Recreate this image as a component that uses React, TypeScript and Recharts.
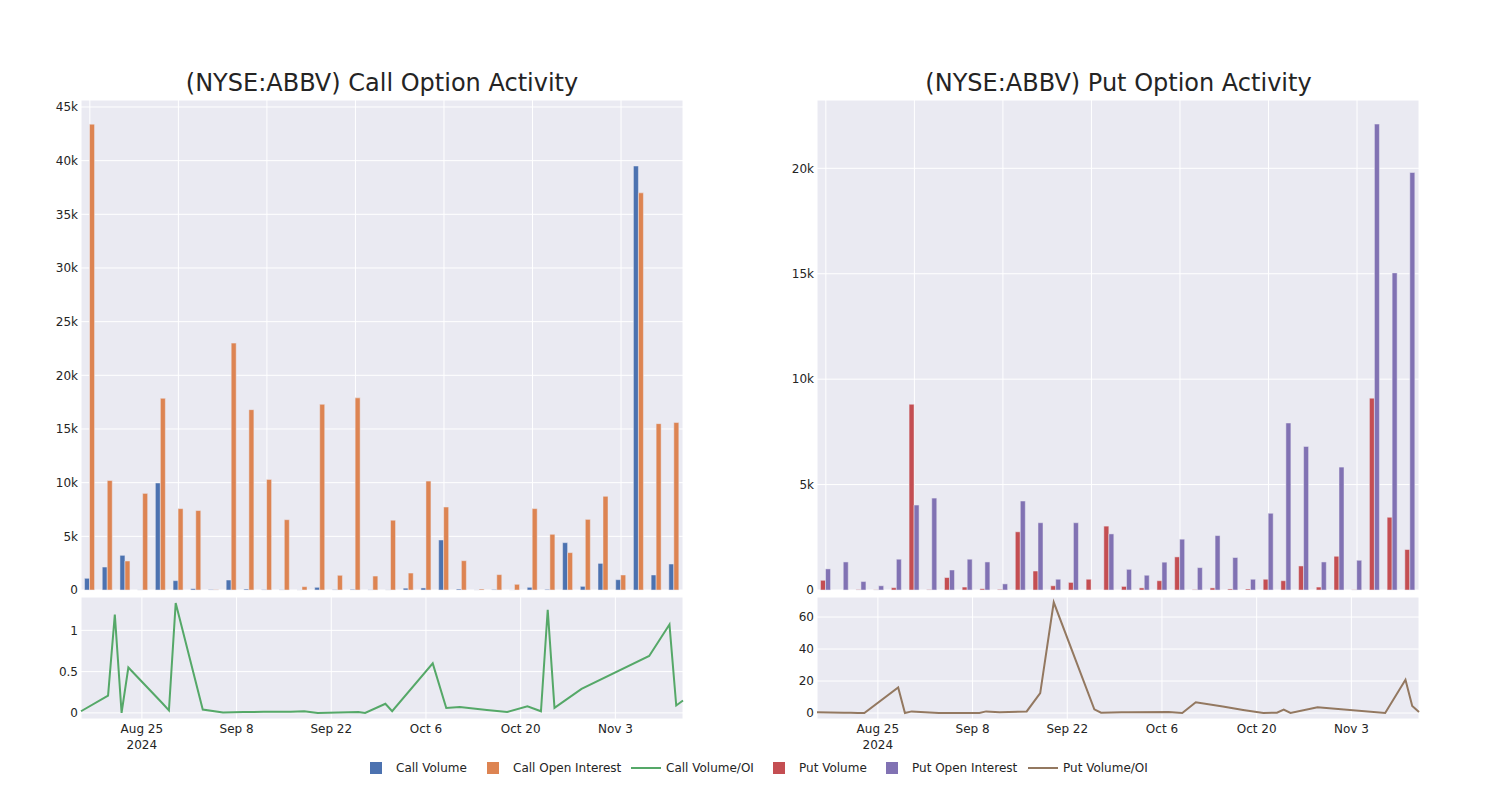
import React from 'react';
import { BarChart, Bar, LineChart, Line, XAxis, YAxis, CartesianGrid } from 'recharts';

// trading days shown in both panels
const dates = [
  '2024-08-16', '2024-08-20', '2024-08-21', '2024-08-22', '2024-08-23', '2024-08-28', '2024-08-29',
  '2024-08-30', '2024-09-03', '2024-09-06', '2024-09-09', '2024-09-10', '2024-09-12', '2024-09-16',
  '2024-09-18', '2024-09-20', '2024-09-26', '2024-09-27', '2024-09-30', '2024-10-01', '2024-10-07',
  '2024-10-09', '2024-10-11', '2024-10-15', '2024-10-18', '2024-10-21', '2024-10-23', '2024-10-24',
  '2024-10-25', '2024-10-29', '2024-11-08', '2024-11-11', '2024-11-12', '2024-11-13',
];

const callVolume = [
  1090, 2140, 3230, 10, 9970, 870, 120, 40, 930, 90, 30, 20, 5, 250, 30, 60, 15, 10,
  170, 190, 4660, 90, 6, 50, 10, 250, 60, 4410, 340, 2480, 960, 39500, 1400, 2420,
];
const callOpenInterest = [
  43400, 10200, 2700, 9000, 17860, 7580, 7400, 30, 23000, 16800, 10300, 6550, 310, 17300, 1370, 17900, 1300, 6500,
  1580, 10150, 7730, 2730, 90, 1430, 530, 7580, 5190, 3480, 6580, 8730, 1400, 37000, 15500, 15600,
];
const callVolOI = [
  0.02, 0.21, 1.19, 0.0, 0.55, 0.12, 0.03, 1.33, 0.04, 0.005, 0.01, 0.01, 0.015, 0.015, 0.02, 0.0, 0.01, 0.0,
  0.11, 0.02, 0.6, 0.06, 0.07, 0.035, 0.01, 0.08, 0.02, 1.25, 0.06, 0.29, 0.69, 1.07, 0.09, 0.15,
];

const putVolume = [
  460, 0, 20, 10, 110, 8810, 20, 590, 140, 60, 30, 2760, 900, 200, 360, 510, 3030, 170,
  100, 440, 1570, 20, 100, 50, 50, 510, 440, 1140, 140, 1600, 10, 9100, 3450, 1920,
];
const putOpenInterest = [
  1000, 1330, 400, 200, 1460, 4030, 4360, 950, 1460, 1330, 290, 4220, 3190, 510, 3190, 0, 2660, 980,
  700, 1320, 2410, 1060, 2580, 1540, 510, 3640, 7920, 6810, 1330, 5830, 1410, 22100, 15040, 19800,
];
const putVolOI = [
  0.4, 0.15, 0.1, 0.05, 0.0, 16, 0.0, 1.0, 0.0, 0.0, 0.0, 1.0, 0.4, 1.0, 12.4, 69.2, 2.3, 0.2,
  0.4, 0.4, 0.6, 0.0, 6.7, 4.0, 1.9, 0.0, 0.2, 2.1, 0.0, 3.6, 0.0, 20.8, 4.4, 0.6,
];

const dateTicks = ['2024-08-25', '2024-09-08', '2024-09-22', '2024-10-06', '2024-10-20', '2024-11-03'];
const callBarTicks = [0, 5000, 10000, 15000, 20000, 25000, 30000, 35000, 40000, 45000];
const putBarTicks = [0, 5000, 10000, 15000, 20000];
const callRatioTicks = [0, 0.5, 1];
const putRatioTicks = [0, 20, 40, 60];

const MONTHS = ['Jan', 'Feb', 'Mar', 'Apr', 'May', 'Jun', 'Jul', 'Aug', 'Sep', 'Oct', 'Nov', 'Dec'];
const ts = (d: string) => Date.parse(d + 'T00:00:00Z');

const COLORS = {
  callVol: '#4C72B0',
  callOI: '#DD8452',
  callRatio: '#55A868',
  putVol: '#C44E52',
  putOI: '#8172B3',
  putRatio: '#937860',
};
const BG = '#EAEAF2';
const TEXT = '#242424';
const FONT = '"DejaVu Sans", Verdana, sans-serif';

const callBars = dates.map((d, i) => ({ date: d, vol: callVolume[i], oi: callOpenInterest[i] }));
const putBars = dates.map((d, i) => ({ date: d, vol: putVolume[i], oi: putOpenInterest[i] }));
const callLine = dates.map((d, i) => ({ t: ts(d), v: callVolOI[i] }));
const putLine = dates.map((d, i) => ({ t: ts(d), v: putVolOI[i] }));

const kFormat = (v: number) => (v === 0 ? '0' : `${v / 1000}k`);
const tickStyle = { fill: TEXT, fontSize: 12, fontFamily: FONT };

const DateTick = (props: any) => {
  const { x, y, payload } = props;
  const dt = new Date(payload.value);
  const label = `${MONTHS[dt.getUTCMonth()]} ${dt.getUTCDate()}`;
  const first = payload.value === ts(dateTicks[0]);
  return (
    <text x={x} y={y} textAnchor="middle" fill={TEXT} fontSize={12} fontFamily={FONT}>
      <tspan x={x} dy={14}>{label}</tspan>
      {first && <tspan x={x} dy={16}>2024</tspan>}
    </text>
  );
};

const BarPanel = ({ data, ticks, max, volColor, oiColor }: any) => (
  <BarChart
    width={690}
    height={604}
    data={data}
    margin={{ top: 100, right: 7, bottom: 14, left: 41 }}
    barCategoryGap="20%"
    barGap={0}
  >
    <CartesianGrid stroke="#ffffff" fill={BG} strokeWidth={1} />
    {/* categorical axis, labels hidden; every 5th category carries a grid line */}
    <XAxis
      dataKey="date"
      interval={4}
      height={0}
      tickFormatter={() => ''}
      tickLine={false}
      axisLine={false}
      tickSize={0}
    />
    <YAxis
      width={40}
      domain={[0, max]}
      ticks={ticks}
      interval={0}
      tickFormatter={kFormat}
      tick={tickStyle}
      tickLine={false}
      axisLine={false}
      tickSize={0}
      tickMargin={3}
    />
    <Bar dataKey="vol" fill={volColor} stroke={BG} strokeWidth={0.5} isAnimationActive={false} />
    <Bar dataKey="oi" fill={oiColor} stroke={BG} strokeWidth={0.5} isAnimationActive={false} />
  </BarChart>
);

const LinePanel = ({ data, ticks, domain, color }: any) => (
  <LineChart width={690} height={170} data={data} margin={{ top: 7, right: 7, bottom: 0, left: 41 }}>
    <CartesianGrid stroke="#ffffff" fill={BG} strokeWidth={1} />
    <XAxis
      dataKey="t"
      type="number"
      scale="time"
      domain={[ts(dates[0]), ts(dates[dates.length - 1])]}
      ticks={dateTicks.map(ts)}
      interval={0}
      tick={<DateTick />}
      height={41}
      tickLine={false}
      axisLine={false}
      tickSize={0}
      tickMargin={0}
    />
    <YAxis
      width={40}
      domain={domain}
      ticks={ticks}
      interval={0}
      tick={tickStyle}
      tickLine={false}
      axisLine={false}
      tickSize={0}
      tickMargin={3}
    />
    <Line type="linear" dataKey="v" stroke={color} strokeWidth={2} dot={false} isAnimationActive={false} />
  </LineChart>
);

const legendItems = [
  { label: 'Call Volume', color: COLORS.callVol, kind: 'square', left: 356 },
  { label: 'Call Open Interest', color: COLORS.callOI, kind: 'square', left: 473 },
  { label: 'Call Volume/OI', color: COLORS.callRatio, kind: 'line', left: 626 },
  { label: 'Put Volume', color: COLORS.putVol, kind: 'square', left: 759 },
  { label: 'Put Open Interest', color: COLORS.putOI, kind: 'square', left: 872 },
  { label: 'Put Volume/OI', color: COLORS.putRatio, kind: 'line', left: 1023 },
];

const titleStyle = (center: number): React.CSSProperties => ({
  position: 'absolute',
  left: center - 300,
  width: 600,
  top: 68,
  textAlign: 'center',
  fontSize: 24,
  color: TEXT,
  lineHeight: '30px',
});

export default function App() {
  return (
    <div
      style={{
        position: 'absolute',
        left: 0,
        top: 0,
        width: 1500,
        height: 800,
        background: '#ffffff',
        fontFamily: FONT,
        overflow: 'hidden',
      }}
    >
      <div style={titleStyle(382)}>(NYSE:ABBV) Call Option Activity</div>
      <div style={titleStyle(1118.5)}>(NYSE:ABBV) Put Option Activity</div>

      <div style={{ position: 'absolute', left: 0, top: 590 }}>
        <LinePanel data={callLine} ticks={callRatioTicks} domain={[-0.074, 1.404]} color={COLORS.callRatio} />
      </div>
      <div style={{ position: 'absolute', left: 736, top: 590 }}>
        <LinePanel data={putLine} ticks={putRatioTicks} domain={[-3.75, 72.5]} color={COLORS.putRatio} />
      </div>

      <div style={{ position: 'absolute', left: 0, top: 0, pointerEvents: 'none' }}>
        <BarPanel data={callBars} ticks={callBarTicks} max={45650} volColor={COLORS.callVol} oiColor={COLORS.callOI} />
      </div>
      <div style={{ position: 'absolute', left: 736, top: 0, pointerEvents: 'none' }}>
        <BarPanel data={putBars} ticks={putBarTicks} max={23240} volColor={COLORS.putVol} oiColor={COLORS.putOI} />
      </div>

      {legendItems.map((it) => (
        <div
          key={it.label}
          style={{ position: 'absolute', left: it.left, top: 759, height: 18, display: 'flex', alignItems: 'center' }}
        >
          <div style={{ width: 40, height: 18, position: 'relative' }}>
            {it.kind === 'square' ? (
              <div style={{ position: 'absolute', left: 14, top: 3, width: 12, height: 12, background: it.color }} />
            ) : (
              <div style={{ position: 'absolute', left: 5, top: 8, width: 30, height: 2, background: it.color }} />
            )}
          </div>
          <span style={{ fontSize: 12, color: TEXT, whiteSpace: 'nowrap' }}>{it.label}</span>
        </div>
      ))}
    </div>
  );
}
